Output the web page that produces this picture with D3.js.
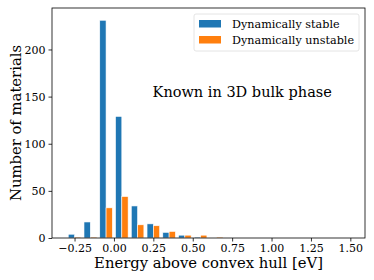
<!DOCTYPE html>
<html>
<head>
<meta charset="utf-8">
<script src="https://cdn.jsdelivr.net/npm/d3@7"></script>
<style>
  body { margin: 0; background: #fff; }
  svg { display: block; font-family: "DejaVu Serif", serif; }
  svg text { font-family: "DejaVu Serif", serif; fill: #000; }
</style>
</head>
<body>
<svg id="chart" width="374" height="280"></svg>
<script>
(function() {

    // bin edges of the histogram (eV), 0.1 wide
    var binStarts = [-0.3, -0.2, -0.1, 0.0, 0.1, 0.2, 0.3, 0.4, 0.5, 0.6, 0.7, 0.8, 0.9, 1.0, 1.1, 1.2, 1.3, 1.4];
    var binWidth = 0.1;
    var stableCounts   = [4, 17, 231, 129, 34, 15, 6, 3, 1, 0, 0, 0, 0, 0, 0, 0, 0, 0];
    var unstableCounts = [1, 1, 32, 44, 14, 13, 7, 3, 3, 1, 0, 0, 0, 0, 0, 0, 0, 0];
    var seriesNames = ["Dynamically stable", "Dynamically unstable"];
    var seriesColors = ["#1f77b4", "#ff7f0e"];
    var xTicks = [-0.25, 0, 0.25, 0.5, 0.75, 1.0, 1.25, 1.5];
    var yTicks = [0, 50, 100, 150, 200];

    var svg = d3.select("#chart"),
        margin = { left: 52, right: 9, top: 8, bottom: 42 },
        width = +svg.attr("width") - margin.left - margin.right,
        height = +svg.attr("height") - margin.top - margin.bottom;

    var x = d3.scaleLinear().domain([-0.393, 1.593]).range([0, width]),
        y = d3.scaleLinear().domain([0, 244]).range([height, 0]);

    var g = svg.append("g").attr("transform", "translate(" + margin.left + "," + margin.top + ")");

    // side by side bars, like matplotlib hist with two datasets
    var series = [stableCounts, unstableCounts];
    var barW = 0.8 * binWidth / series.length;
    series.forEach(function(counts, k) {
        g.append("g").selectAll("rect")
            .data(binStarts.map(function(s, i) { return { x0: s, n: counts[i] }; }).filter(function(d) { return d.n > 0; }))
            .enter().append("rect")
            .attr("x", function(d) { return x(d.x0 + 0.1 * binWidth + k * barW); })
            .attr("width", function(d) { return x(d.x0 + barW) - x(d.x0); })
            .attr("y", function(d) { return y(d.n); })
            .attr("height", function(d) { return y(0) - y(d.n); })
            .attr("fill", seriesColors[k])
            .attr("stroke", "#fff")
            .attr("stroke-width", 0.6);
    });

    // axes
    var fmt = function(d) { return d3.format(".2f")(d).replace("-", "\u2212"); };
    var xAxis = g.append("g").attr("transform", "translate(0," + height + ")")
        .call(d3.axisBottom(x).tickValues(xTicks).tickFormat(fmt).tickSize(3.5).tickPadding(3));
    var yAxis = g.append("g")
        .call(d3.axisLeft(y).tickValues(yTicks).tickSize(3.5).tickPadding(3));
    [xAxis, yAxis].forEach(function(a) {
        a.attr("font-family", null).attr("font-size", null);
        a.select(".domain").remove();
        a.selectAll("text").style("font-size", "11px");
        a.selectAll("line").attr("stroke", "#000").attr("stroke-width", 0.8);
    });

    // frame
    g.append("rect").attr("width", width).attr("height", height)
        .attr("fill", "none").attr("stroke", "#000").attr("stroke-width", 0.8);

    // legend
    var lg = g.append("g").attr("transform", "translate(" + (width - 171) + ",6)");
    lg.append("rect").attr("width", 165).attr("height", 37).attr("rx", 2)
        .attr("fill", "#fff").attr("fill-opacity", 0.8).attr("stroke", "#ddd").attr("stroke-width", 0.8);
    seriesNames.forEach(function(name, i) {
        lg.append("rect").attr("x", 5).attr("y", 6 + i * 16).attr("width", 22).attr("height", 7.5)
            .attr("fill", seriesColors[i]);
        lg.append("text").attr("x", 38).attr("y", 13.5 + i * 16)
            .style("font-size", "11.2px").text(name);
    });

    // annotation
    g.append("text").attr("x", x(0.245)).attr("y", y(150))
        .style("font-size", "14.5px").text("Known in 3D bulk phase");

    // axis labels
    svg.append("text").attr("x", margin.left + width / 2).attr("y", 268)
        .attr("text-anchor", "middle").style("font-size", "14.8px").text("Energy above convex hull [eV]");
    svg.append("text").attr("transform", "translate(21," + (margin.top + height / 2) + ") rotate(-90)")
        .attr("text-anchor", "middle").style("font-size", "14.8px").text("Number of materials");
})();
</script>
</body>
</html>
